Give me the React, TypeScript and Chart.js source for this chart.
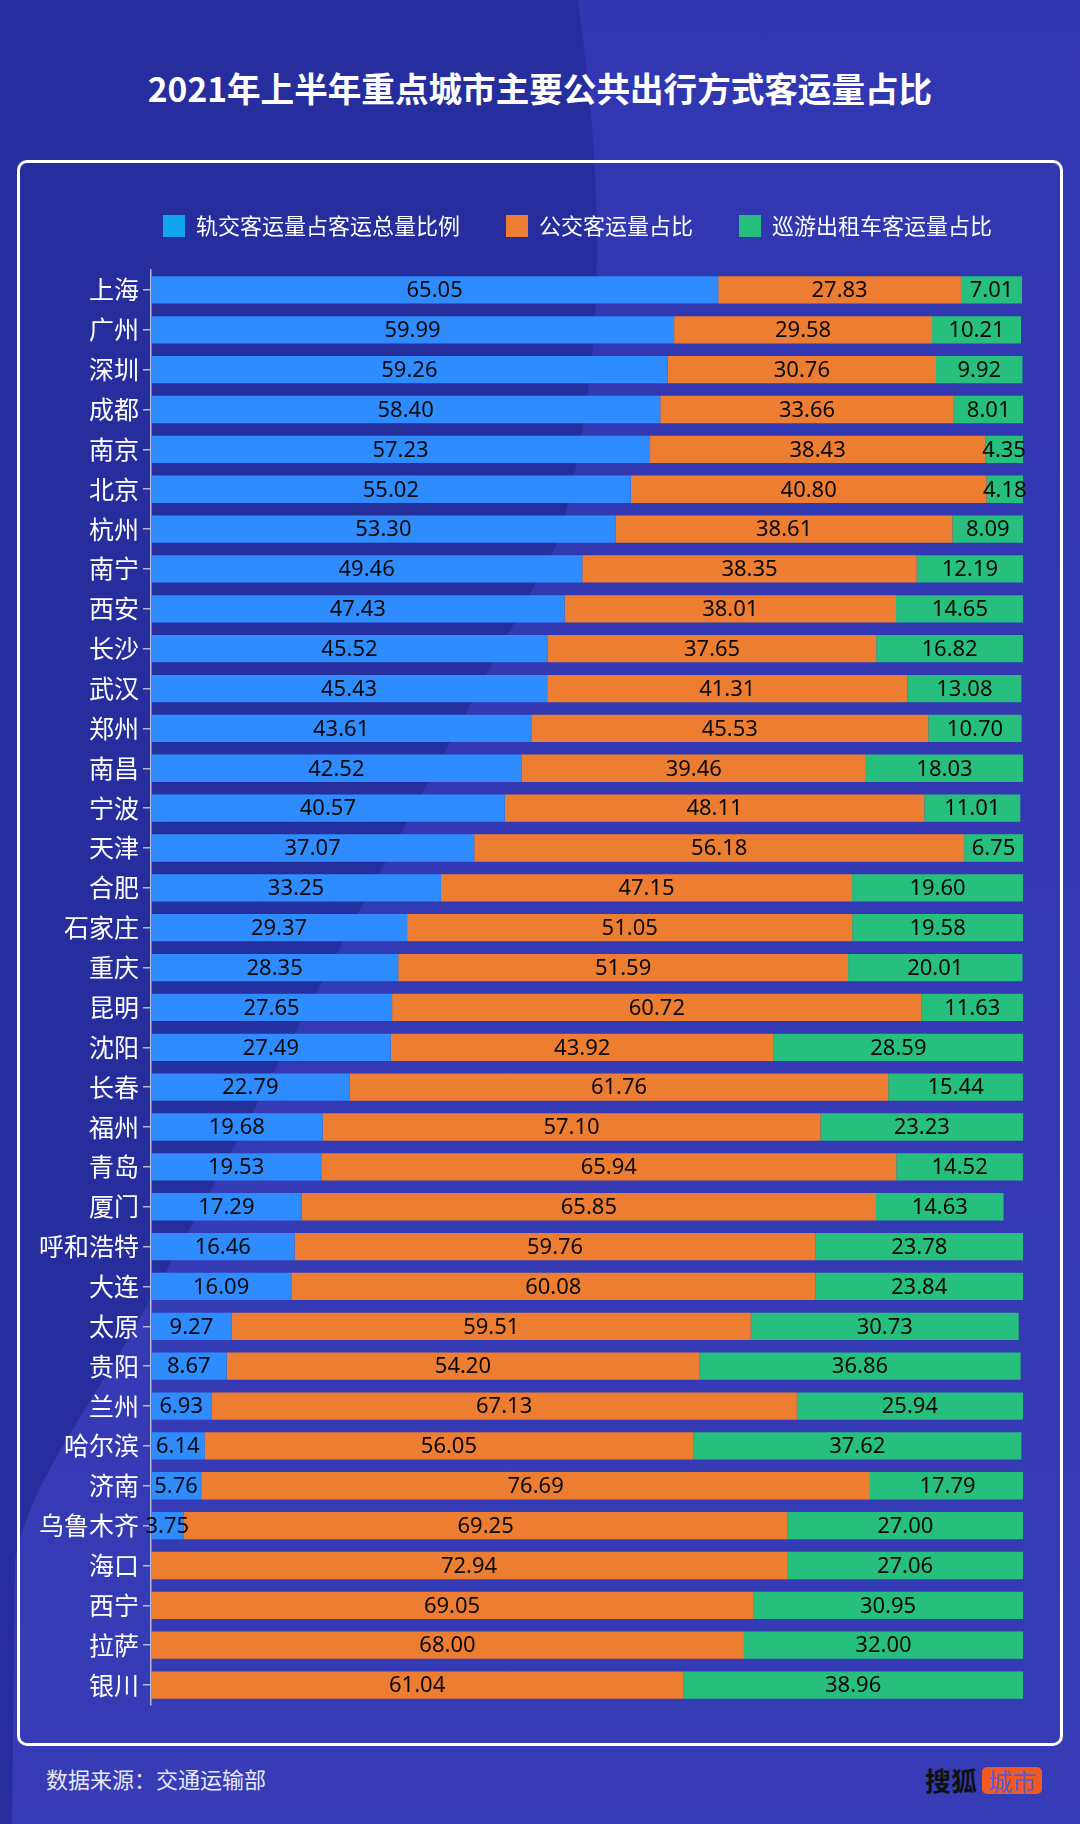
import React, { useEffect, useRef } from "react";
import { Chart, registerables } from "chart.js";

Chart.register(...registerables);

const cities = [
  "上海", "广州", "深圳", "成都", "南京", "北京", "杭州", "南宁", "西安", "长沙",
  "武汉", "郑州", "南昌", "宁波", "天津", "合肥", "石家庄", "重庆", "昆明", "沈阳",
  "长春", "福州", "青岛", "厦门", "呼和浩特", "大连", "太原", "贵阳", "兰州", "哈尔滨",
  "济南", "乌鲁木齐", "海口", "西宁", "拉萨", "银川",
];

const railShare = [
  65.05, 59.99, 59.26, 58.40, 57.23, 55.02, 53.30, 49.46, 47.43, 45.52,
  45.43, 43.61, 42.52, 40.57, 37.07, 33.25, 29.37, 28.35, 27.65, 27.49,
  22.79, 19.68, 19.53, 17.29, 16.46, 16.09, 9.27, 8.67, 6.93, 6.14,
  5.76, 3.75, 0, 0, 0, 0,
];

const busShare = [
  27.83, 29.58, 30.76, 33.66, 38.43, 40.80, 38.61, 38.35, 38.01, 37.65,
  41.31, 45.53, 39.46, 48.11, 56.18, 47.15, 51.05, 51.59, 60.72, 43.92,
  61.76, 57.10, 65.94, 65.85, 59.76, 60.08, 59.51, 54.20, 67.13, 56.05,
  76.69, 69.25, 72.94, 69.05, 68.00, 61.04,
];

const taxiShare = [
  7.01, 10.21, 9.92, 8.01, 4.35, 4.18, 8.09, 12.19, 14.65, 16.82,
  13.08, 10.70, 18.03, 11.01, 6.75, 19.60, 19.58, 20.01, 11.63, 28.59,
  15.44, 23.23, 14.52, 14.63, 23.78, 23.84, 30.73, 36.86, 25.94, 37.62,
  17.79, 27.00, 27.06, 30.95, 32.00, 38.96,
];

const seriesNames = ["轨交客运量占客运总量比例", "公交客运量占比", "巡游出租车客运量占比"];
const barColors = ["#2e8cff", "#ed7d31", "#27bf7e"];
const legendColors = ["#12a3ef", "#ed7d31", "#27bf7e"];

const TITLE = "2021年上半年重点城市主要公共出行方式客运量占比";
const SOURCE = "数据来源：交通运输部";

const CJK = '"Noto Sans CJK SC", "Noto Sans", sans-serif';

const valueLabels = {
  id: "valueLabels",
  afterDatasetsDraw(chart: any) {
    const ctx = chart.ctx;
    ctx.save();
    ctx.font = '22px "Noto Sans", "Noto Sans CJK SC", sans-serif';
    ctx.fillStyle = "#0a0a0a";
    ctx.textAlign = "center";
    ctx.textBaseline = "middle";
    chart.data.datasets.forEach((ds: any, di: number) => {
      const meta = chart.getDatasetMeta(di);
      meta.data.forEach((bar: any, i: number) => {
        const v = ds.data[i] as number;
        if (!v) return;
        const p = bar.getProps(["x", "base", "y"], true);
        ctx.fillText(v.toFixed(2), (p.x + p.base) / 2, p.y + 1);
      });
    });
    ctx.restore();
  },
};

export default function App() {
  const canvasRef = useRef<HTMLCanvasElement | null>(null);

  useEffect(() => {
    if (!canvasRef.current) return;
    const series = [railShare, busShare, taxiShare];
    const chart = new Chart(canvasRef.current, {
      type: "bar",
      data: {
        labels: cities,
        datasets: series.map((d, i) => ({
          label: seriesNames[i],
          data: d,
          backgroundColor: barColors[i],
          borderWidth: 0,
          barPercentage: 0.685,
          categoryPercentage: 1,
        })),
      },
      options: {
        indexAxis: "y",
        responsive: false,
        animation: false,
        layout: { padding: { left: 0, right: 45, top: 9, bottom: 41 } },
        scales: {
          x: {
            stacked: true,
            min: 0,
            max: 100,
            position: "top",
            ticks: { display: false },
            grid: { display: false },
            border: { display: false },
            afterFit: (s: any) => {
              s.height = 23;
            },
          },
          y: {
            stacked: true,
            grid: {
              display: true,
              drawOnChartArea: false,
              drawTicks: true,
              tickLength: 8,
              color: "#b4b8d6",
              lineWidth: 1.5,
              offset: false,
            },
            border: { display: true, color: "#b4b8d6", width: 1.5 },
            ticks: {
              color: "#ffffff",
              font: { size: 25, family: CJK },
              padding: 4,
              autoSkip: false,
            },
            afterFit: (s: any) => {
              s.width = 151;
            },
          },
          y2: {
            type: "linear",
            position: "right",
            display: true,
            ticks: { display: false },
            grid: { display: false },
            border: { display: false },
            afterFit: (s: any) => {
              s.width = 132;
            },
          },
        },
        plugins: {
          legend: {
            position: "top",
            labels: {
              color: "#ffffff",
              font: { size: 22, family: CJK },
              boxWidth: 22,
              boxHeight: 22,
              padding: 46,
              generateLabels: (c: any) =>
                (Chart.defaults.plugins.legend.labels as any)
                  .generateLabels(c)
                  .map((l: any, i: number) => ({
                    ...l,
                    fillStyle: legendColors[i],
                    strokeStyle: legendColors[i],
                    lineWidth: 0,
                  })),
            },
          },
          tooltip: { enabled: false },
        },
      } as any,
      plugins: [valueLabels],
    });
    return () => chart.destroy();
  }, []);

  return (
    <div
      style={{
        position: "absolute",
        left: 0,
        top: 0,
        width: 1080,
        height: 1824,
        overflow: "hidden",
        background: "#262e9e",
        fontFamily: CJK,
      }}
    >
      <svg
        width={1080}
        height={1824}
        style={{ position: "absolute", left: 0, top: 0 }}
      >
        <defs>
          <linearGradient id="lightGrad" x1="0" y1="0" x2="0" y2="1">
            <stop offset="0" stopColor="#3137b0" />
            <stop offset="1" stopColor="#363bb6" />
          </linearGradient>
        </defs>
        <path
          d="M578,0 C598,150 615,330 559,540 L365,900 C260,1100 190,1230 150,1300 C90,1410 30,1480 15,1560 L12,1824 L1080,1824 L1080,0 Z"
          fill="url(#lightGrad)"
        />
      </svg>
      <div
        style={{
          position: "absolute",
          left: 0,
          top: 67,
          width: 1080,
          textAlign: "center",
          color: "#ffffff",
          fontSize: 33.6,
          fontWeight: 700,
          lineHeight: "42px",
        }}
      >
        {TITLE}
      </div>
      <div
        style={{
          position: "absolute",
          left: 17,
          top: 160,
          width: 1046,
          height: 1586,
          border: "3px solid #ffffff",
          borderRadius: 10,
          boxSizing: "border-box",
        }}
      />
      <canvas
        ref={canvasRef}
        width={1200}
        height={1586}
        style={{ position: "absolute", left: 0, top: 160, width: 1200, height: 1586 }}
      />
      <div
        style={{
          position: "absolute",
          left: 46,
          top: 1763,
          color: "#e8e8f4",
          fontSize: 22,
          lineHeight: "30px",
        }}
      >
        {SOURCE}
      </div>
      <div
        style={{
          position: "absolute",
          left: 925,
          top: 1764,
          height: 32,
          display: "flex",
          alignItems: "center",
        }}
      >
        <span style={{ color: "#111111", fontSize: 26, fontWeight: 700, lineHeight: "32px" }}>
          搜狐
        </span>
        <span
          style={{
            marginLeft: 5,
            background: "#f05a22",
            color: "#5a5cd0",
            fontSize: 24,
            lineHeight: "27px",
            height: 27,
            padding: "0 6px",
            borderRadius: 5,
          }}
        >
          城市
        </span>
      </div>
    </div>
  );
}
